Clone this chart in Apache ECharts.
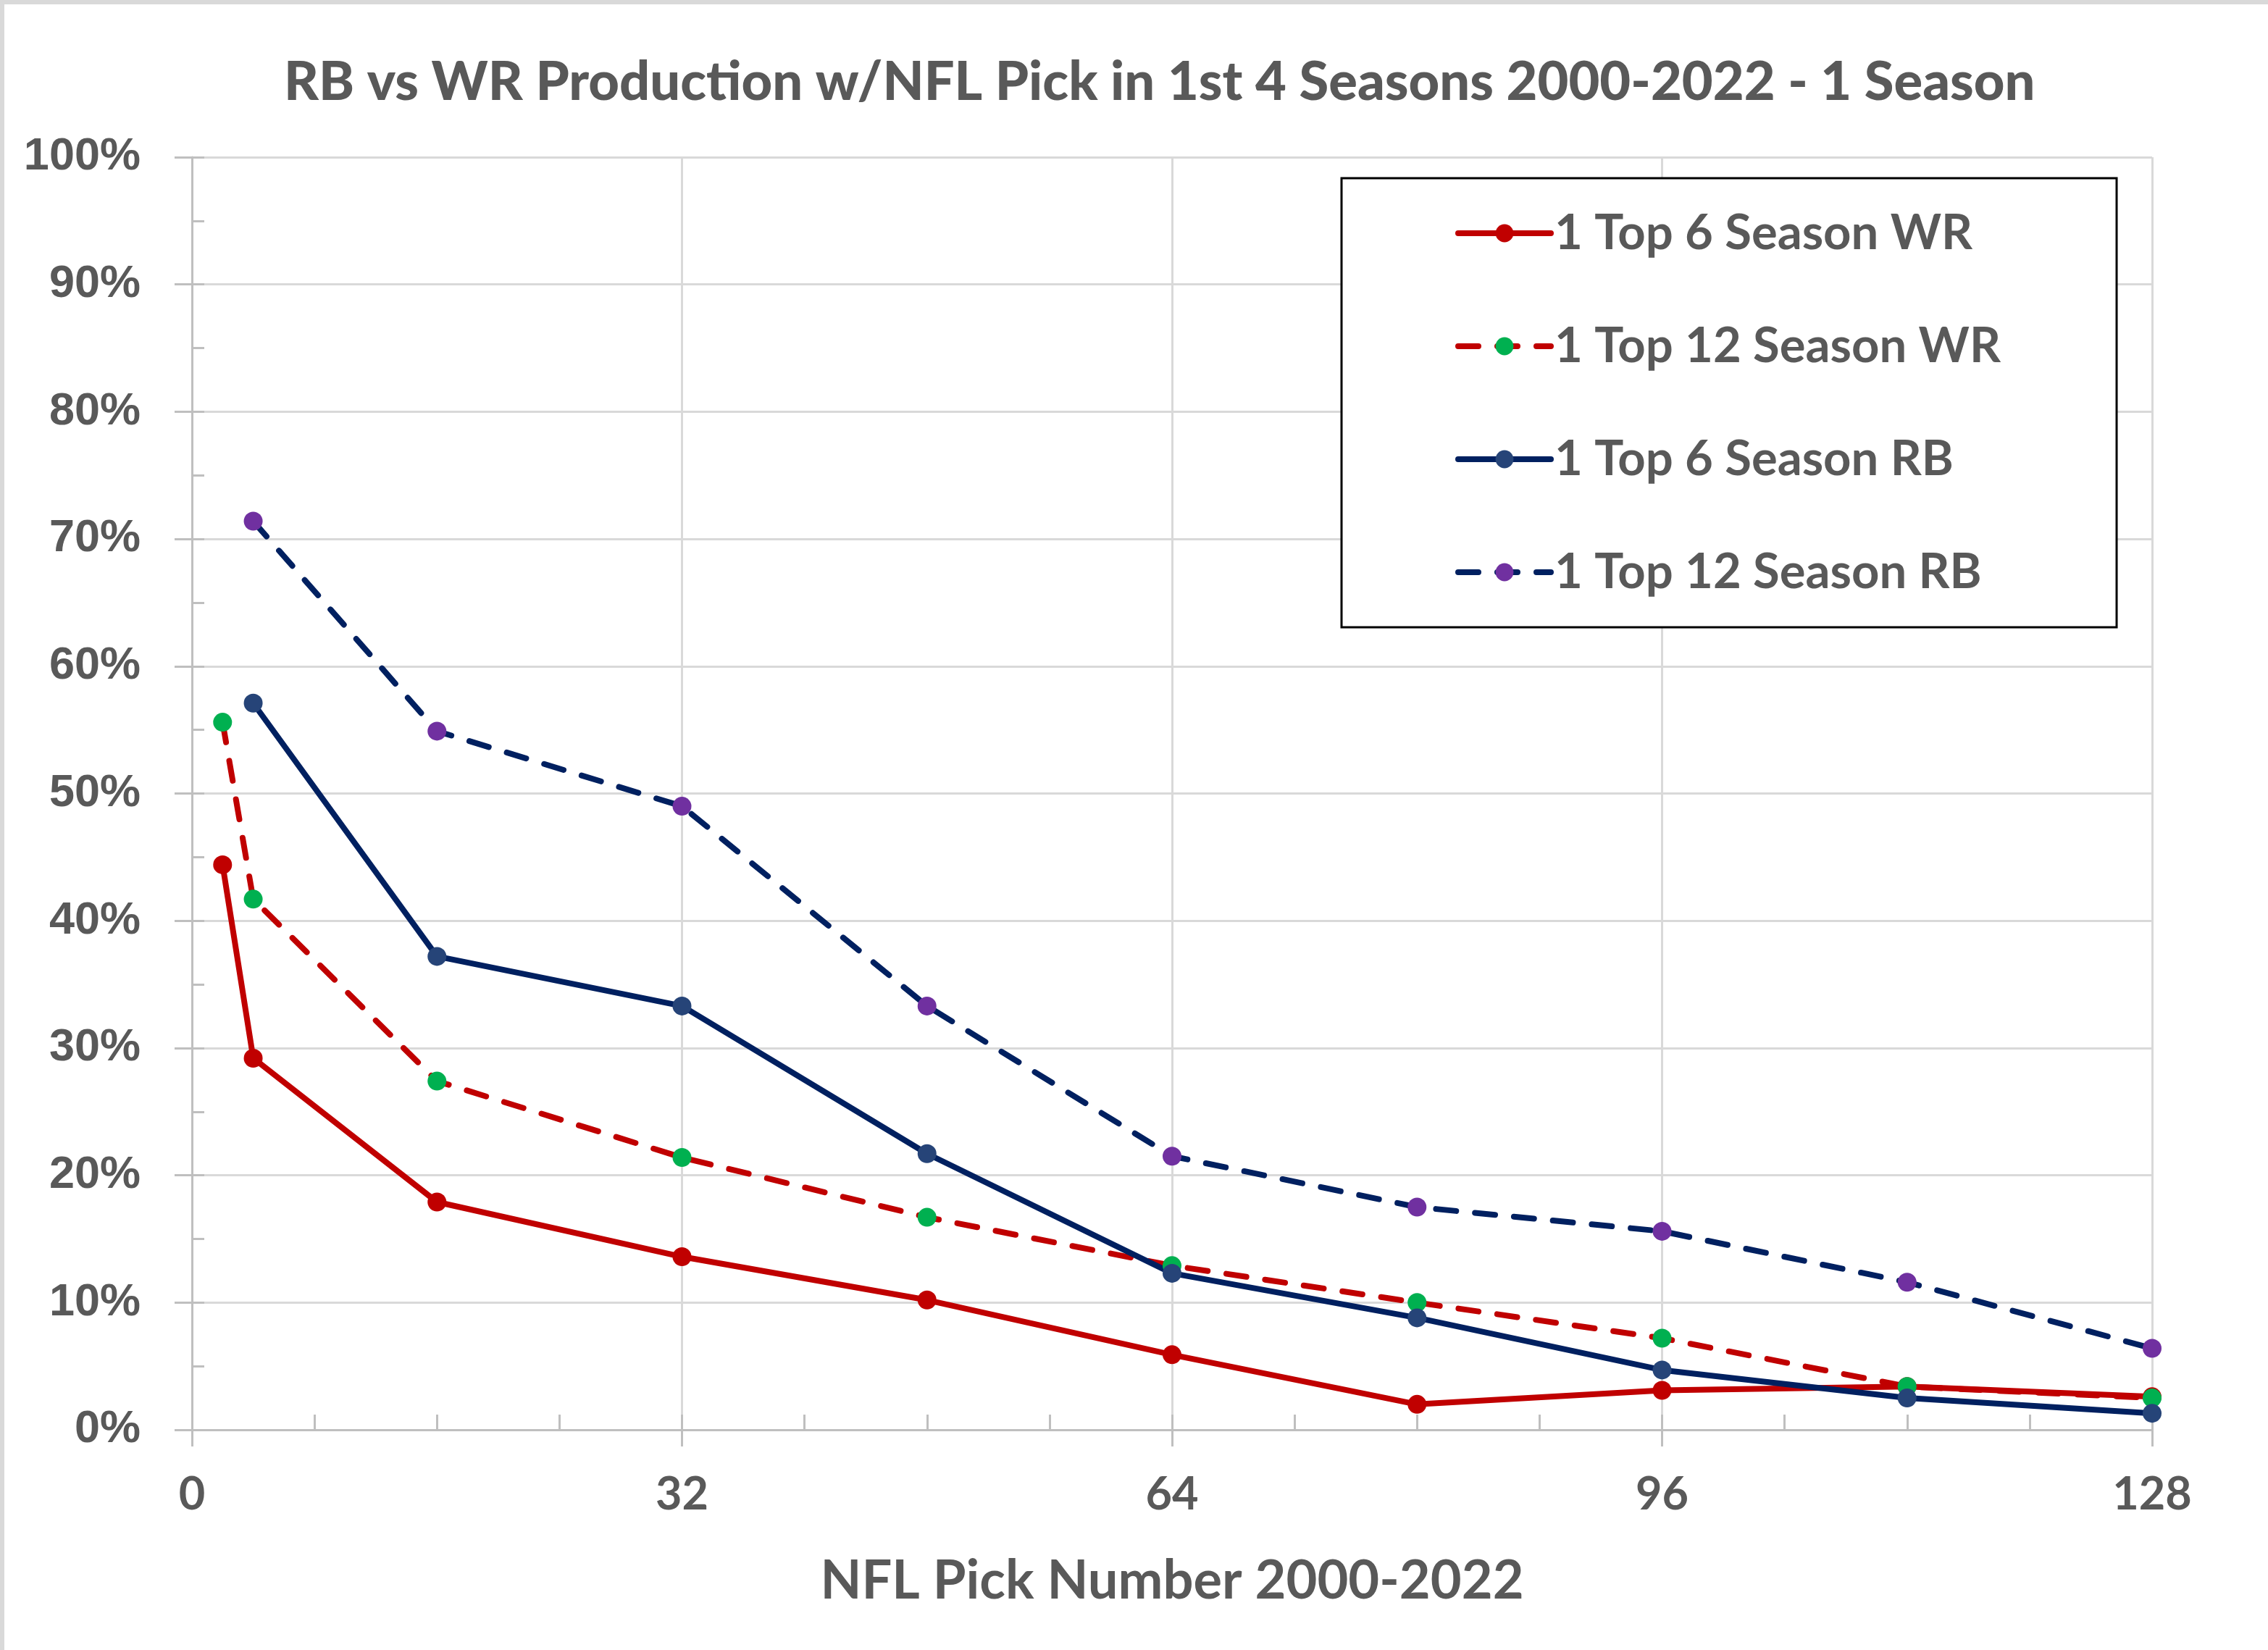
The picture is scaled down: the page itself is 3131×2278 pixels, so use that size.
<!DOCTYPE html>
<html>
<head>
<meta charset="utf-8">
<script src="https://cdn.jsdelivr.net/npm/echarts@6/dist/echarts.min.js"></script>
<style>
html,body{margin:0;padding:0;background:#fff;}
#chart{width:3131px;height:2278px;}
</style>
</head>
<body>
<div id="chart"></div>
<script>
const titleText = 'RB vs WR Production w/NFL Pick in 1st 4 Seasons 2000-2022 - 1 Season';
const xAxisTitle = 'NFL Pick Number 2000-2022';
const seriesNames = ['1 Top 6 Season WR', '1 Top 12 Season WR', '1 Top 6 Season RB', '1 Top 12 Season RB'];
const wrPicks = [2, 4, 16, 32, 48, 64, 80, 96, 112, 128];
const wrTop6 = [44.4, 29.2, 17.9, 13.6, 10.2, 5.9, 2.0, 3.1, 3.4, 2.6];
const wrTop12 = [55.6, 41.7, 27.4, 21.4, 16.7, 12.9, 10.0, 7.2, 3.4, 2.5];
const rbPicks = [4, 16, 32, 48, 64, 80, 96, 112, 128];
const rbTop6 = [57.1, 37.2, 33.3, 21.7, 12.3, 8.8, 4.7, 2.5, 1.3];
const rbTop12 = [71.4, 54.9, 49.0, 33.3, 21.5, 17.5, 15.6, 11.6, 6.4];
const xTicks = [0, 32, 64, 96, 128];
const yTicks = [0, 10, 20, 30, 40, 50, 60, 70, 80, 90, 100];

const pair = (xs, ys) => xs.map((x, i) => [x, ys[i]]);
const TXT = '#595959';
const FONT = 'Lato, "Open Sans", sans-serif';

const chart = echarts.init(document.getElementById('chart'), null, {renderer: 'canvas'});
const dash = [28, 26];
function mkSeries(name, data, color, markerColor, dashed) {
  return {
    name: name, type: 'line', data: data,
    symbol: 'circle', symbolSize: 26,
    lineStyle: {color: color, width: 8, type: dashed ? dash : 'solid', cap: 'round', join: 'round'},
    itemStyle: {color: markerColor},
    emphasis: {disabled: true},
    animation: false
  };
}
const option = {
  backgroundColor: '#fff',
  animation: false,
  title: {
    text: titleText, left: 387, top: 72,
    textStyle: {fontFamily: FONT, fontWeight: 900, fontSize: 74, color: TXT}
  },
  grid: {left: 265, right: 160, top: 217, bottom: 304, containLabel: false},
  legend: {
    left: 1852, top: 246, orient: 'vertical',
    padding: [41, 160, 41, 157],
    backgroundColor: '#fff', borderColor: '#000', borderWidth: 3,
    itemWidth: 128, itemHeight: 31, itemGap: 86,
    lineStyle: {width: 8, cap: 'round'},
    textStyle: {fontFamily: FONT, fontWeight: 'bold', fontSize: 67, color: TXT, lineHeight: 70},
    data: seriesNames
  },
  xAxis: [{
    type: 'value', min: 0, max: 128, interval: 32,
    axisLine: {show: true, lineStyle: {color: '#bfbfbf', width: 3}},
    axisTick: {show: true, inside: false, length: 23, lineStyle: {color: '#bfbfbf', width: 3}},
    axisLabel: {margin: 58, fontFamily: FONT, fontWeight: 'bold', fontSize: 63, color: TXT},
    splitLine: {show: true, lineStyle: {color: '#d9d9d9', width: 3}},
    name: xAxisTitle, nameLocation: 'middle', nameGap: 172,
    nameTextStyle: {fontFamily: FONT, fontWeight: 'bold', fontSize: 74, color: TXT}
  }, {
    type: 'value', min: 0, max: 128, interval: 8, position: 'bottom',
    axisLine: {show: false},
    axisTick: {show: true, inside: true, length: 21, lineStyle: {color: '#bfbfbf', width: 3}},
    axisLabel: {show: false}, splitLine: {show: false}
  }],
  yAxis: [{
    type: 'value', min: 0, max: 100, interval: 10,
    axisLine: {show: true, lineStyle: {color: '#bfbfbf', width: 3}},
    axisTick: {show: true, inside: false, length: 24, lineStyle: {color: '#bfbfbf', width: 3}},
    axisLabel: {margin: 71, fontFamily: '"Liberation Sans", Arial, sans-serif', fontWeight: 'bold', fontSize: 63, color: TXT, formatter: '{value}%'},
    splitLine: {show: true, lineStyle: {color: '#d9d9d9', width: 3}}
  }, {
    type: 'value', min: 0, max: 100, interval: 5, position: 'left',
    axisLine: {show: false},
    axisTick: {show: true, inside: true, length: 17, lineStyle: {color: '#bfbfbf', width: 3}},
    axisLabel: {show: false}, splitLine: {show: false}
  }],
  graphic: [{
    type: 'rect', left: 0, top: 0, silent: true, z: -1,
    shape: {x: 0, y: 0, width: 3131, height: 2278},
    style: {fill: 'none', stroke: '#d9d9d9', lineWidth: 6}
  }],
  series: [
    mkSeries(seriesNames[0], pair(wrPicks, wrTop6), '#c00000', '#c00000', false),
    mkSeries(seriesNames[1], pair(wrPicks, wrTop12), '#c00000', '#00b050', true),
    mkSeries(seriesNames[2], pair(rbPicks, rbTop6), '#002060', '#264478', false),
    mkSeries(seriesNames[3], pair(rbPicks, rbTop12), '#002060', '#7030a0', true)
  ]
};
chart.setOption(option);
</script>
</body>
</html>
